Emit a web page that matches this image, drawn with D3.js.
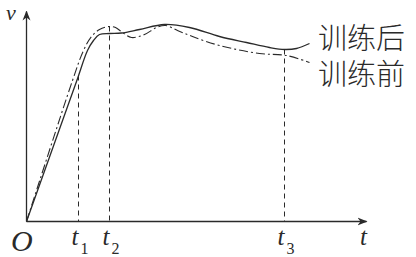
<!DOCTYPE html>
<html><head><meta charset="utf-8">
<script src="https://cdn.jsdelivr.net/npm/d3@7"></script>
<style>html,body{margin:0;padding:0;background:#fff;}svg{display:block;}</style>
</head><body>
<svg id="c" width="416" height="257"></svg>
<script>
// data (t, v) in arbitrary units
const afterT = [0, 5.0, 6.1, 6.7, 7.3, 8.3, 9.5, 11.3, 13.8, 16.3, 19.3, 22.0, 24.3, 25.8, 27.0, 28.3];
const afterV = [0, 14.0, 17.1, 18.1, 18.7, 18.8, 18.85, 19.2, 19.7, 19.4, 18.5, 17.9, 17.4, 17.2, 17.3, 17.8];
const beforeT = [0, 4.6, 5.7, 6.5, 7.3, 8.3, 8.9, 9.6, 10.5, 11.8, 13.0, 13.9, 15.1, 16.6, 19.3, 23.3, 26.0, 28.3];
const beforeV = [0, 14.1, 17.1, 18.5, 19.2, 19.5, 19.4, 18.9, 18.4, 18.7, 19.4, 19.6, 19.1, 18.5, 17.6, 16.8, 16.6, 15.9];
const tickT = [5.2, 8.3, 25.8];
const tickTop = [14.6, 19.5, 17.2];
const tickSub = ["1", "2", "3"];
const seriesNames = ["训练后", "训练前"];

const svg = d3.select("#c");
const x = d3.scaleLinear().domain([0, 34]).range([26.5, 366.5]);
const y = d3.scaleLinear().domain([0, 21]).range([221.5, 11.5]);
const ink = "#2a2a2a";

// axes
svg.append("defs").append("marker").attr("id","arr").attr("viewBox","0 0 10 10")
  .attr("refX",9).attr("refY",5).attr("markerWidth",10).attr("markerHeight",10)
  .attr("markerUnits","userSpaceOnUse").attr("orient","auto")
  .append("path").attr("d","M0,1 L10,5 L0,9 L3,5 Z").attr("fill",ink);
svg.append("line").attr("x1",x(0)).attr("y1",y(0)).attr("x2",x(34)).attr("y2",y(0))
  .attr("stroke",ink).attr("stroke-width",1.3).attr("marker-end","url(#arr)");
svg.append("line").attr("x1",x(0)).attr("y1",y(0)).attr("x2",x(0)).attr("y2",y(21))
  .attr("stroke",ink).attr("stroke-width",1.3).attr("marker-end","url(#arr)");

// guide lines
tickT.forEach((t,i)=>{
  svg.append("line").attr("x1",x(t)).attr("x2",x(t)).attr("y1",y(tickTop[i])).attr("y2",y(0))
    .attr("stroke",ink).attr("stroke-width",1).attr("stroke-dasharray","5,4");
});

const line = d3.line().x(d=>x(d[0])).y(d=>y(d[1])).curve(d3.curveCatmullRom.alpha(0.5));
svg.append("path").datum(afterT.map((t,i)=>[t,afterV[i]])).attr("d",line)
  .attr("fill","none").attr("stroke",ink).attr("stroke-width",1.3);
svg.append("path").datum(beforeT.map((t,i)=>[t,beforeV[i]])).attr("d",line)
  .attr("fill","none").attr("stroke",ink).attr("stroke-width",1.1).attr("stroke-dasharray","9,3,2,3");

// labels
const serif = "'Liberation Serif','DejaVu Serif',serif";
svg.append("text").attr("x",6).attr("y",20).attr("font-family",serif).attr("font-style","italic")
  .attr("font-size",22).attr("fill",ink).text("v");
svg.append("text").attr("x",11).attr("y",251).attr("font-family",serif).attr("font-style","italic")
  .attr("font-size",30).attr("fill",ink).text("O");
svg.append("text").attr("x",360).attr("y",245).attr("font-family",serif).attr("font-style","italic")
  .attr("font-size",25).attr("fill",ink).text("t");
tickT.forEach((t,i)=>{
  const g = svg.append("text").attr("x",x(t)-7).attr("y",245).attr("font-family",serif)
    .attr("font-size",25).attr("fill",ink);
  g.append("tspan").attr("font-style","italic").text("t");
  g.append("tspan").attr("font-size",16).attr("dy",9).attr("dx",2).text(tickSub[i]);
});
const cjk = "'Noto Sans CJK SC',sans-serif";
svg.append("text").attr("x",318).attr("y",49).attr("font-family",cjk).attr("font-weight",300)
  .attr("font-size",29).attr("fill",ink).text(seriesNames[0]);
svg.append("text").attr("x",318).attr("y",85).attr("font-family",cjk).attr("font-weight",300)
  .attr("font-size",29).attr("fill",ink).text(seriesNames[1]);
</script>
</body></html>
